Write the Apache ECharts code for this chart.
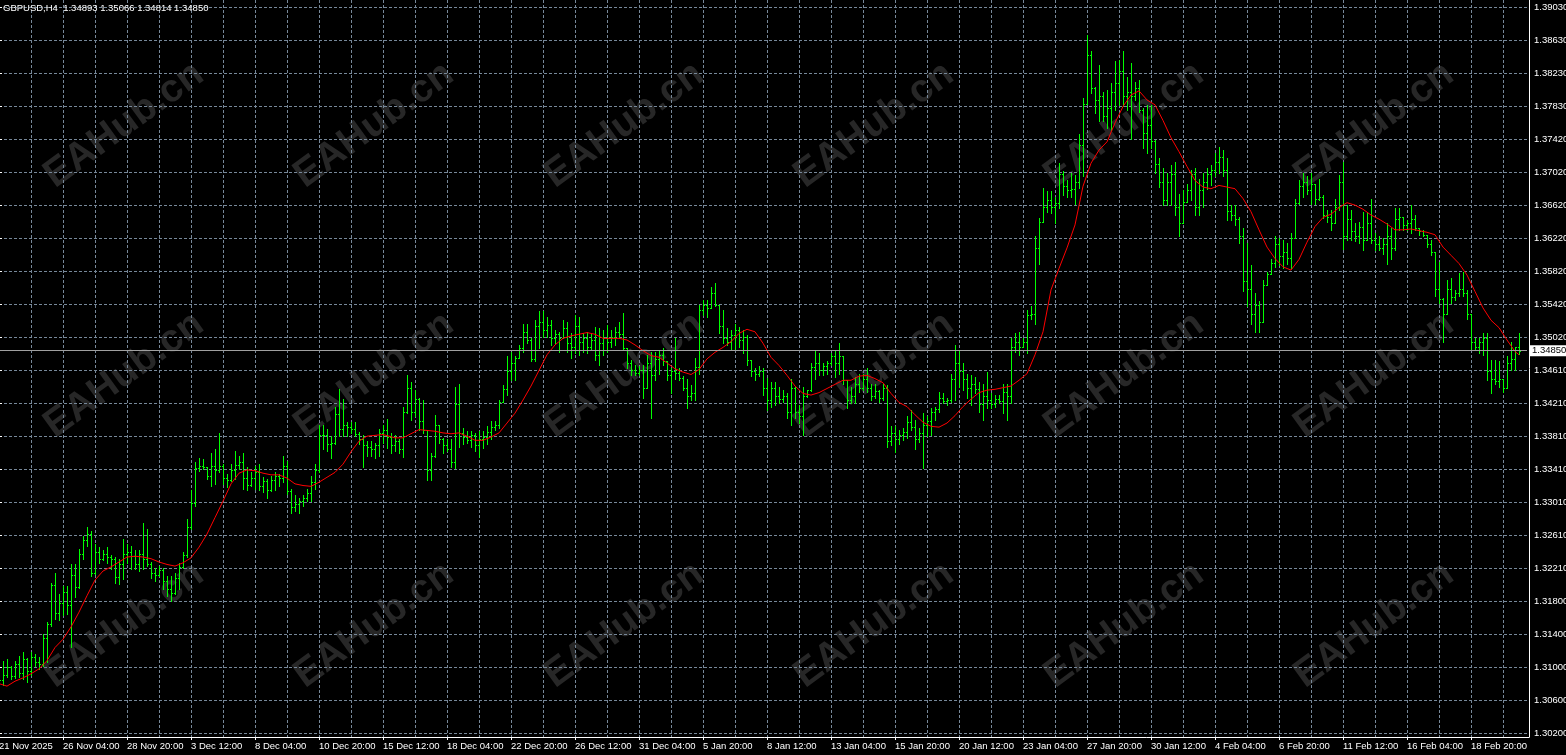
<!DOCTYPE html>
<html><head><meta charset="utf-8">
<script src="https://cdn.jsdelivr.net/npm/echarts@6/dist/echarts.min.js"></script>
<style>html,body{margin:0;padding:0;background:#000;overflow:hidden}#c{width:1566px;height:755px}</style>
</head><body><div id="c"></div>
<script>
const symbolTitle = 'GBPUSD,H4  1.34893 1.35066 1.34814 1.34850';
const lastPrice = 1.34850;
const lastPriceLabel = '1.34850';
const watermarkText = 'EAHub.cn';

const opens = [
1.3088,1.3085,1.3090,1.3100,1.3089,1.3104,1.3093,1.3110,1.3096,1.3112,1.3106,1.3104,1.3136,1.3153,1.3200,1.3166,1.3178,1.3192,1.3176,1.3212,
1.3198,1.3238,1.3255,1.3262,1.3215,1.3240,1.3232,1.3238,1.3234,1.3232,1.3210,1.3225,1.3238,1.3240,1.3235,1.3226,1.3238,1.3232,1.3226,1.3215,
1.3212,1.3218,1.3205,1.3195,1.3190,1.3208,1.3222,1.3236,1.3270,1.3300,1.3342,1.3345,1.3343,1.3332,1.3345,1.3340,1.3345,1.3330,1.3328,1.3340,
1.3346,1.3350,1.3330,1.3322,1.3330,1.3338,1.3320,1.3326,1.3316,1.3328,1.3333,1.3330,1.3345,1.3314,1.3295,1.3298,1.3302,1.3306,1.3312,1.3325,
1.3340,1.3382,1.3382,1.3372,1.3373,1.3408,1.3390,1.3395,1.3392,1.3390,1.3384,1.3378,1.3370,1.3368,1.3366,1.3370,1.3385,1.3388,1.3380,1.3370,
1.3375,1.3366,1.3410,1.3440,1.3410,1.3426,1.3400,1.3388,1.3340,1.3357,1.3395,1.3378,1.3370,1.3366,1.3350,1.3420,1.3385,1.3380,1.3376,1.3382,
1.3370,1.3378,1.3380,1.3386,1.3392,1.3395,1.3423,1.3438,1.3460,1.3470,1.3476,1.3488,1.3508,1.3498,1.3475,1.3515,1.3520,1.3510,1.3516,1.3500,
1.3505,1.3500,1.3512,1.3494,1.3490,1.3515,1.3495,1.3500,1.3490,1.3498,1.3480,1.3494,1.3500,1.3495,1.3502,1.3508,1.3505,1.3488,1.3470,1.3462,
1.3458,1.3462,1.3440,1.3470,1.3455,1.3475,1.3480,1.3472,1.3455,1.3460,1.3458,1.3452,1.3440,1.3430,1.3434,1.3465,1.3535,1.3540,1.3537,1.3555,
1.3540,1.3515,1.3500,1.3496,1.3504,1.3510,1.3498,1.3502,1.3474,1.3460,1.3457,1.3460,1.3440,1.3425,1.3440,1.3430,1.3426,1.3430,1.3410,1.3440,
1.3410,1.3405,1.3430,1.3437,1.3465,1.3470,1.3462,1.3466,1.3470,1.3478,1.3470,1.3478,1.3449,1.3425,1.3430,1.3445,1.3440,1.3450,1.3440,1.3430,
1.3436,1.3428,1.3440,1.3375,1.3385,1.3378,1.3382,1.3386,1.3398,1.3392,1.3378,1.3385,1.3395,1.3400,1.3410,1.3414,1.3428,1.3424,1.3425,1.3450,
1.3470,1.3460,1.3450,1.3440,1.3445,1.3438,1.3420,1.3430,1.3425,1.3420,1.3426,1.3424,1.3435,1.3430,1.3490,1.3495,1.3490,1.3495,1.3528,1.3530,
1.3610,1.3642,1.3660,1.3668,1.3660,1.3665,1.3700,1.3685,1.3680,1.3682,1.3690,1.3735,1.3785,1.3845,1.3805,1.3790,1.3795,1.3770,1.3780,1.3800,
1.3810,1.3825,1.3795,1.3800,1.3795,1.3805,1.3778,1.3750,1.3760,1.3740,1.3712,1.3690,1.3668,1.3690,1.3700,1.3660,1.3640,1.3666,1.3680,1.3700,
1.3660,1.3680,1.3690,1.3700,1.3705,1.3715,1.3720,1.3705,1.3655,1.3650,1.3645,1.3625,1.3570,1.3560,1.3530,1.3540,1.3520,1.3565,1.3578,1.3592,
1.3615,1.3600,1.3605,1.3598,1.3622,1.3665,1.3685,1.3690,1.3680,1.3688,1.3670,1.3672,1.3650,1.3648,1.3640,1.3660,1.3690,1.3625,1.3645,1.3630,
1.3625,1.3635,1.3620,1.3640,1.3620,1.3615,1.3610,1.3615,1.3625,1.3610,1.3645,1.3648,1.3638,1.3640,1.3645,1.3634,1.3630,1.3626,1.3615,1.3605,
1.3560,1.3548,1.3530,1.3560,1.3550,1.3555,1.3560,1.3555,1.3530,1.3495,1.3490,1.3495,1.3500,1.3460,1.3450,1.3448,1.3450,1.3440,1.3470,1.3475,
1.34893];

const highs = [
1.3094,1.3108,1.3110,1.3101,1.3108,1.3114,1.3119,1.3111,1.3118,1.3116,1.3112,1.3140,1.3155,1.3203,1.3215,1.3189,1.3199,1.3199,1.3226,1.3226,
1.3244,1.3260,1.3270,1.3266,1.3250,1.3246,1.3242,1.3246,1.3236,1.3234,1.3232,1.3256,1.3250,1.3248,1.3242,1.3242,1.3276,1.3268,1.3228,1.3221,
1.3223,1.3221,1.3211,1.3211,1.3215,1.3227,1.3240,1.3280,1.3315,1.3349,1.3355,1.3353,1.3344,1.3361,1.3365,1.3385,1.3347,1.3335,1.3347,1.3363,
1.3357,1.3361,1.3343,1.3337,1.3345,1.3347,1.3331,1.3329,1.3333,1.3337,1.3335,1.3357,1.3351,1.3317,1.3310,1.3306,1.3310,1.3317,1.3333,1.3347,
1.3394,1.3394,1.3390,1.3381,1.3416,1.3438,1.3426,1.3398,1.3398,1.3398,1.3386,1.3383,1.3375,1.3375,1.3373,1.3390,1.3394,1.3402,1.3385,1.3383,
1.3377,1.3417,1.3456,1.3447,1.3437,1.3427,1.3425,1.3389,1.3361,1.3407,1.3395,1.3379,1.3377,1.3377,1.3441,1.3445,1.3391,1.3387,1.3387,1.3385,
1.3387,1.3387,1.3393,1.3399,1.3399,1.3425,1.3443,1.3478,1.3484,1.3478,1.3492,1.3518,1.3518,1.3500,1.3522,1.3533,1.3533,1.3526,1.3522,1.3510,
1.3508,1.3522,1.3520,1.3506,1.3528,1.3526,1.3506,1.3508,1.3506,1.3514,1.3512,1.3510,1.3516,1.3510,1.3514,1.3520,1.3531,1.3488,1.3474,1.3468,
1.3466,1.3468,1.3480,1.3484,1.3484,1.3486,1.3488,1.3472,1.3464,1.3500,1.3464,1.3454,1.3450,1.3443,1.3476,1.3541,1.3547,1.3547,1.3563,1.3567,
1.3541,1.3535,1.3512,1.3510,1.3518,1.3514,1.3510,1.3504,1.3474,1.3464,1.3466,1.3464,1.3452,1.3447,1.3447,1.3441,1.3437,1.3433,1.3451,1.3441,
1.3419,1.3441,1.3437,1.3470,1.3486,1.3482,1.3470,1.3472,1.3482,1.3486,1.3494,1.3478,1.3449,1.3441,1.3453,1.3457,1.3457,1.3464,1.3445,1.3445,
1.3437,1.3445,1.3443,1.3393,1.3393,1.3389,1.3391,1.3405,1.3413,1.3401,1.3391,1.3409,1.3405,1.3415,1.3417,1.3435,1.3433,1.3427,1.3457,1.3492,
1.3486,1.3470,1.3457,1.3455,1.3453,1.3447,1.3445,1.3459,1.3433,1.3431,1.3431,1.3445,1.3445,1.3500,1.3506,1.3508,1.3500,1.3535,1.3539,1.3624,
1.3646,1.3683,1.3679,1.3679,1.3672,1.3713,1.3703,1.3693,1.3701,1.3699,1.3749,1.3792,1.3869,1.3849,1.3806,1.3833,1.3800,1.3802,1.3810,1.3837,
1.3839,1.3849,1.3818,1.3835,1.3812,1.3814,1.3780,1.3784,1.3784,1.3741,1.3719,1.3707,1.3701,1.3711,1.3715,1.3676,1.3680,1.3688,1.3705,1.3707,
1.3694,1.3701,1.3707,1.3711,1.3725,1.3733,1.3729,1.3719,1.3662,1.3662,1.3648,1.3634,1.3616,1.3589,1.3555,1.3545,1.3571,1.3581,1.3597,1.3624,
1.3622,1.3620,1.3616,1.3628,1.3670,1.3692,1.3701,1.3697,1.3701,1.3688,1.3694,1.3674,1.3656,1.3656,1.3670,1.3699,1.3715,1.3662,1.3656,1.3640,
1.3642,1.3654,1.3652,1.3670,1.3628,1.3624,1.3622,1.3640,1.3634,1.3658,1.3658,1.3648,1.3644,1.3662,1.3650,1.3634,1.3632,1.3626,1.3620,1.3605,
1.3593,1.3549,1.3571,1.3573,1.3559,1.3579,1.3581,1.3559,1.3530,1.3500,1.3500,1.3506,1.3506,1.3474,1.3474,1.3472,1.3451,1.3478,1.3496,1.3490,
1.35066];

const lows = [
1.3076,1.3078,1.3088,1.3086,1.3087,1.3088,1.3086,1.3082,1.3090,1.3102,1.3098,1.3102,1.3106,1.3150,1.3159,1.3157,1.3163,1.3165,1.3124,1.3185,
1.3196,1.3232,1.3248,1.3211,1.3213,1.3227,1.3230,1.3227,1.3219,1.3203,1.3201,1.3207,1.3227,1.3219,1.3219,1.3217,1.3219,1.3223,1.3209,1.3205,
1.3211,1.3195,1.3187,1.3181,1.3189,1.3195,1.3221,1.3234,1.3268,1.3296,1.3339,1.3341,1.3329,1.3320,1.3323,1.3338,1.3323,1.3319,1.3327,1.3329,
1.3341,1.3317,1.3315,1.3321,1.3317,1.3315,1.3313,1.3306,1.3314,1.3315,1.3321,1.3325,1.3311,1.3288,1.3290,1.3288,1.3296,1.3302,1.3302,1.3317,
1.3338,1.3365,1.3363,1.3355,1.3371,1.3381,1.3381,1.3381,1.3385,1.3381,1.3371,1.3343,1.3357,1.3357,1.3355,1.3357,1.3373,1.3367,1.3361,1.3363,
1.3361,1.3356,1.3409,1.3401,1.3405,1.3389,1.3385,1.3328,1.3328,1.3356,1.3373,1.3361,1.3363,1.3344,1.3342,1.3368,1.3371,1.3373,1.3368,1.3363,
1.3356,1.3367,1.3371,1.3377,1.3389,1.3391,1.3423,1.3431,1.3449,1.3449,1.3476,1.3484,1.3494,1.3472,1.3472,1.3488,1.3502,1.3502,1.3492,1.3494,
1.3484,1.3500,1.3484,1.3476,1.3482,1.3480,1.3484,1.3482,1.3486,1.3474,1.3468,1.3480,1.3484,1.3490,1.3492,1.3500,1.3486,1.3464,1.3456,1.3456,
1.3456,1.3427,1.3439,1.3403,1.3449,1.3457,1.3468,1.3449,1.3433,1.3451,1.3449,1.3437,1.3415,1.3425,1.3425,1.3457,1.3528,1.3526,1.3537,1.3539,
1.3506,1.3494,1.3492,1.3486,1.3486,1.3490,1.3482,1.3468,1.3454,1.3449,1.3454,1.3431,1.3413,1.3417,1.3419,1.3421,1.3423,1.3403,1.3395,1.3403,
1.3397,1.3383,1.3429,1.3436,1.3451,1.3455,1.3455,1.3457,1.3468,1.3453,1.3457,1.3445,1.3415,1.3421,1.3421,1.3435,1.3437,1.3435,1.3425,1.3427,
1.3423,1.3425,1.3368,1.3370,1.3362,1.3372,1.3376,1.3379,1.3389,1.3366,1.3374,1.3342,1.3381,1.3383,1.3401,1.3411,1.3421,1.3419,1.3423,1.3425,
1.3441,1.3437,1.3427,1.3419,1.3433,1.3411,1.3401,1.3415,1.3415,1.3417,1.3421,1.3409,1.3401,1.3421,1.3484,1.3480,1.3490,1.3482,1.3524,1.3518,
1.3591,1.3642,1.3654,1.3652,1.3640,1.3658,1.3674,1.3672,1.3672,1.3664,1.3683,1.3697,1.3785,1.3798,1.3774,1.3764,1.3764,1.3756,1.3754,1.3778,
1.3784,1.3782,1.3778,1.3742,1.3790,1.3775,1.3731,1.3725,1.3731,1.3701,1.3684,1.3662,1.3662,1.3662,1.3650,1.3624,1.3640,1.3666,1.3668,1.3650,
1.3650,1.3660,1.3682,1.3686,1.3697,1.3701,1.3697,1.3644,1.3644,1.3638,1.3616,1.3557,1.3539,1.3518,1.3508,1.3508,1.3520,1.3565,1.3578,1.3587,
1.3589,1.3585,1.3591,1.3585,1.3622,1.3664,1.3672,1.3676,1.3664,1.3664,1.3668,1.3646,1.3642,1.3632,1.3640,1.3656,1.3609,1.3620,1.3620,1.3618,
1.3616,1.3607,1.3620,1.3616,1.3607,1.3607,1.3603,1.3591,1.3597,1.3607,1.3632,1.3632,1.3632,1.3628,1.3632,1.3626,1.3624,1.3611,1.3601,1.3551,
1.3543,1.3496,1.3530,1.3543,1.3547,1.3551,1.3551,1.3524,1.3486,1.3486,1.3482,1.3480,1.3449,1.3433,1.3445,1.3441,1.3435,1.3440,1.3461,1.3461,
1.34814];

const closes = [
1.3085,1.3090,1.3100,1.3089,1.3104,1.3093,1.3110,1.3096,1.3112,1.3106,1.3104,1.3136,1.3153,1.3200,1.3166,1.3178,1.3192,1.3176,1.3212,1.3198,
1.3238,1.3255,1.3262,1.3215,1.3240,1.3232,1.3238,1.3234,1.3232,1.3210,1.3225,1.3238,1.3240,1.3235,1.3226,1.3238,1.3232,1.3226,1.3215,1.3212,
1.3218,1.3205,1.3195,1.3190,1.3208,1.3222,1.3236,1.3270,1.3300,1.3342,1.3345,1.3343,1.3332,1.3345,1.3340,1.3345,1.3330,1.3328,1.3340,1.3346,
1.3350,1.3330,1.3322,1.3330,1.3338,1.3320,1.3326,1.3316,1.3328,1.3333,1.3330,1.3345,1.3314,1.3295,1.3298,1.3302,1.3306,1.3312,1.3325,1.3340,
1.3382,1.3382,1.3372,1.3373,1.3408,1.3390,1.3395,1.3392,1.3390,1.3384,1.3378,1.3370,1.3368,1.3366,1.3370,1.3385,1.3388,1.3380,1.3370,1.3375,
1.3366,1.3410,1.3440,1.3410,1.3426,1.3400,1.3388,1.3340,1.3357,1.3395,1.3378,1.3370,1.3366,1.3350,1.3420,1.3385,1.3380,1.3376,1.3382,1.3370,
1.3378,1.3380,1.3386,1.3392,1.3395,1.3423,1.3438,1.3460,1.3470,1.3476,1.3488,1.3508,1.3498,1.3475,1.3515,1.3520,1.3510,1.3516,1.3500,1.3505,
1.3500,1.3512,1.3494,1.3490,1.3515,1.3495,1.3500,1.3490,1.3498,1.3480,1.3494,1.3500,1.3495,1.3502,1.3508,1.3505,1.3488,1.3470,1.3462,1.3458,
1.3462,1.3440,1.3470,1.3455,1.3475,1.3480,1.3472,1.3455,1.3460,1.3458,1.3452,1.3440,1.3430,1.3434,1.3465,1.3535,1.3540,1.3537,1.3555,1.3540,
1.3515,1.3500,1.3496,1.3504,1.3510,1.3498,1.3502,1.3474,1.3460,1.3457,1.3460,1.3440,1.3425,1.3440,1.3430,1.3426,1.3430,1.3410,1.3440,1.3410,
1.3405,1.3430,1.3437,1.3465,1.3470,1.3462,1.3466,1.3470,1.3478,1.3470,1.3478,1.3449,1.3425,1.3430,1.3445,1.3440,1.3450,1.3440,1.3430,1.3436,
1.3428,1.3440,1.3375,1.3385,1.3378,1.3382,1.3386,1.3398,1.3392,1.3378,1.3385,1.3395,1.3400,1.3410,1.3414,1.3428,1.3424,1.3425,1.3450,1.3470,
1.3460,1.3450,1.3440,1.3445,1.3438,1.3420,1.3430,1.3425,1.3420,1.3426,1.3424,1.3435,1.3430,1.3490,1.3495,1.3490,1.3495,1.3528,1.3530,1.3610,
1.3642,1.3660,1.3668,1.3660,1.3665,1.3700,1.3685,1.3680,1.3682,1.3690,1.3735,1.3785,1.3845,1.3805,1.3790,1.3795,1.3770,1.3780,1.3800,1.3810,
1.3825,1.3795,1.3800,1.3795,1.3805,1.3778,1.3750,1.3760,1.3740,1.3712,1.3690,1.3668,1.3690,1.3700,1.3660,1.3640,1.3666,1.3680,1.3700,1.3660,
1.3680,1.3690,1.3700,1.3705,1.3715,1.3720,1.3705,1.3655,1.3650,1.3645,1.3625,1.3570,1.3560,1.3530,1.3540,1.3520,1.3565,1.3578,1.3592,1.3615,
1.3600,1.3605,1.3598,1.3622,1.3665,1.3685,1.3690,1.3680,1.3688,1.3670,1.3672,1.3650,1.3648,1.3640,1.3660,1.3690,1.3625,1.3645,1.3630,1.3625,
1.3635,1.3620,1.3640,1.3620,1.3615,1.3610,1.3615,1.3625,1.3610,1.3645,1.3648,1.3638,1.3640,1.3645,1.3634,1.3630,1.3626,1.3615,1.3605,1.3560,
1.3548,1.3530,1.3560,1.3550,1.3555,1.3560,1.3555,1.3530,1.3495,1.3490,1.3495,1.3500,1.3460,1.3450,1.3448,1.3450,1.3440,1.3470,1.3475,1.34893,
1.34850];

// moving average: bar index and value
const maBars = [
0,2,4,6,8,10,12,14,16,18,20,22,24,26,28,30,32,34,36,38,40,42,44,46,48,50,52,54,56,58,60,62,64,66,68,70,72,74,76,78,80,82,84,86,88,90,92,94,96,
99,101,103,105,107,109,111,113,115,117,119,121,123,125,127,129,131,133,135,137,139,141,143,145,147,149,151,153,155,157,159,161,163,165,167,169,171,173,175,177,179,
181,183,185,187,189,191,193,195,197,199,201,203,205,207,209,211,213,215,217,219,221,223,225,227,229,231,233,235,237,239,241,243,245,247,249,251,253,255,257,259,
261,263,265,267,269,271,273,275,277,279,281,283,285,287,289,291,293,295,297,299,301,303,305,307,309,311,313,315,317,319,321,323,325,327,329,331,333,335,337,339,
341,343,345,347,349,351,353,355,357,359,361,363,365,367,369,371,373,375,377,379,380];
const maValues = [
1.3080,1.3077,1.3083,1.3087,1.3092,1.3098,1.3108,1.3124,1.3134,1.3149,1.3167,1.3187,1.3206,1.3217,1.3222,1.3228,1.3234,1.3235,1.3234,1.3232,1.3228,1.3225,1.3223,1.3227,1.3233,
1.3246,1.3262,1.3282,1.3302,1.3323,1.3336,1.3340,1.3339,1.3336,1.3334,1.3334,1.3330,1.3323,1.3321,1.3320,1.3325,1.3331,1.3337,1.3347,1.3362,1.3375,1.3381,1.3382,1.3383,
1.3379,1.3379,1.3384,1.3389,1.3388,1.3387,1.3385,1.3384,1.3385,1.3381,1.3376,1.3376,1.3380,1.3385,1.3397,1.3409,1.3425,1.3442,1.3461,1.3480,1.3492,1.3500,1.3503,1.3505,1.3507,
1.3505,1.3500,1.3500,1.3500,1.3498,1.3492,1.3485,1.3479,1.3477,1.3470,1.3463,1.3459,1.3456,1.3462,1.3475,1.3483,
1.3489,1.3496,1.3506,1.3511,1.3508,1.3494,1.3477,1.3467,1.3455,1.3442,1.3433,1.3431,1.3434,1.3439,1.3444,1.3449,1.3449,1.3454,1.3455,1.3451,1.3446,1.3433,1.3422,1.3417,1.3407,
1.3398,1.3393,1.3392,1.3397,1.3406,1.3417,1.3426,1.3434,1.3437,1.3438,1.3440,1.3442,1.3449,1.3457,1.3480,
1.3508,1.3559,1.3585,1.3610,1.3638,1.3685,1.3713,1.3729,1.3739,1.3762,1.3782,1.3796,1.3801,1.3790,1.3784,1.3765,1.3744,1.3727,1.3709,1.3692,1.3684,1.3682,1.3686,1.3684,1.3682,
1.3670,1.3654,1.3632,1.3611,1.3597,1.3587,1.3583,1.3596,1.3617,1.3636,1.3647,1.3651,1.3659,1.3665,1.3662,
1.3657,1.3650,1.3645,1.3639,1.3632,1.3632,1.3633,1.3631,1.3629,1.3626,1.3611,1.3601,1.3591,1.3577,1.3557,1.3537,1.3522,1.3513,1.3498,1.3484,1.3480];

const xTickLabels = ['21 Nov 2025','26 Nov 04:00','28 Nov 20:00','3 Dec 12:00','8 Dec 04:00','10 Dec 20:00','15 Dec 12:00','18 Dec 04:00',
'22 Dec 20:00','26 Dec 12:00','31 Dec 04:00','5 Jan 20:00','8 Jan 12:00','13 Jan 04:00','15 Jan 20:00','20 Jan 12:00',
'23 Jan 04:00','27 Jan 20:00','30 Jan 12:00','4 Feb 04:00','6 Feb 20:00','11 Feb 12:00','16 Feb 04:00','18 Feb 20:00'];
const yTickLabels = ['1.39030','1.38630','1.38230','1.37830','1.37420','1.37020','1.36620','1.36220','1.35820','1.35420','1.35020','1.34610',
'1.34210','1.33810','1.33410','1.33010','1.32610','1.32210','1.31800','1.31400','1.31000','1.30600','1.30200'];

// ---------- layout ----------
const FONT = "'Liberation Sans',Arial,sans-serif";
const FS = 9.5;
const GRID_COLOR = '#778899';
const BAR_SLOTS = 383;           // visible bar slots incl. empty right margin
const LABEL_EVERY = 16, GRID_EVERY = 8;
const labelTop = 1.39030, labelBottom = 1.30200; // price at top / bottom price grid line
const labelSpanPx = 726;                           // pixels between them
const perPx = (labelTop - labelBottom) / labelSpanPx;
const plotTopPx = 7, plotBottomPx = 737;

const slots = [];
for (let i = 0; i < BAR_SLOTS; i++) slots.push(String(i));
const barRows = opens.map((o, i) => [i, o, highs[i], lows[i], closes[i]]);
const maRows = maBars.map((b, i) => [b, maValues[i]]);

function renderOhlc(params, api) {
  const i = api.value(0);
  const pO = api.coord([i, api.value(1)]);
  const pH = api.coord([i, api.value(2)]);
  const pL = api.coord([i, api.value(3)]);
  const pC = api.coord([i, api.value(4)]);
  const x = Math.round(pO[0]);
  const yH = Math.round(pH[1]), yL = Math.round(pL[1]);
  const yO = Math.round(pO[1]), yC = Math.round(pC[1]);
  const st = { fill: '#00ff00' };
  return { type: 'group', children: [
    { type: 'rect', shape: { x: x, y: yH, width: 1, height: Math.max(1, yL - yH + 1) }, style: st },
    { type: 'rect', shape: { x: x - 1, y: yO, width: 1, height: 1 }, style: st },
    { type: 'rect', shape: { x: x + 1, y: yC, width: 1, height: 1 }, style: st }
  ]};
}

const watermarks = [];
for (let r = 0; r < 3; r++) {
  for (let c = 0; c < 6; c++) {
    watermarks.push({
      type: 'text', x: 124 + 250 * c, y: 125 + 250 * r, rotation: 36 * Math.PI / 180,
      z: -10, zlevel: 0, silent: true,
      style: { text: watermarkText, fill: '#272727', font: 'bold 39px "Liberation Sans", Arial, sans-serif',
               align: 'center', verticalAlign: 'middle', textAlign: 'center', textVerticalAlign: 'middle' }
    });
  }
}

const gridBase = { containLabel: false, outerBoundsMode: 'none' };
const chart = echarts.init(document.getElementById('c'), null, { renderer: 'canvas', width: 1566, height: 755 });
chart.setOption({
  animation: false,
  backgroundColor: '#000000',
  title: { text: symbolTitle, left: 3, top: 3, padding: 0,
           textStyle: { color: '#ffffff', fontSize: FS, fontWeight: 'normal', fontFamily: FONT } },
  graphic: { elements: watermarks },
  grid: [
    Object.assign({ left: -1, top: 0, width: (BAR_SLOTS - 1) * 4, height: plotBottomPx }, gridBase),
    Object.assign({ left: -1, top: plotTopPx, width: 1530, height: labelSpanPx }, gridBase),
    Object.assign({ left: -1, top: 0, width: 1530, height: plotBottomPx }, gridBase)
  ],
  xAxis: [
    { type: 'category', gridIndex: 0, data: slots, boundaryGap: false,
      axisLine: { show: false },
      axisTick: { show: true, interval: LABEL_EVERY - 1, length: 3, lineStyle: { color: '#ffffff' } },
      axisLabel: { show: true, interval: LABEL_EVERY - 1, color: '#ffffff', fontSize: FS, fontFamily: FONT,
                   align: 'left', margin: 4, hideOverlap: false,
                   formatter: (v) => { const n = parseInt(v, 10); return n % LABEL_EVERY === 0 ? (xTickLabels[n / LABEL_EVERY] || '') : ''; } },
      splitLine: { show: true, interval: GRID_EVERY - 1, lineStyle: { color: GRID_COLOR, type: [3, 2], width: 1 } } },
    { type: 'value', gridIndex: 1, min: 0, max: 1, show: false },
    { type: 'value', gridIndex: 2, min: 0, max: 1,
      axisLine: { show: true, onZero: false, lineStyle: { color: '#ffffff', width: 1 } },
      axisTick: { show: false }, axisLabel: { show: false }, splitLine: { show: false } }
  ],
  yAxis: [
    { type: 'value', gridIndex: 0, min: labelBottom - (plotBottomPx - plotTopPx - labelSpanPx) * perPx,
      max: labelTop + plotTopPx * perPx, show: false },
    { type: 'value', gridIndex: 1, min: 0, max: yTickLabels.length - 1, interval: 1, inverse: true, position: 'right',
      axisLine: { show: false },
      axisTick: { show: true, length: 3, lineStyle: { color: '#ffffff' } },
      axisLabel: { show: true, color: '#ffffff', fontSize: FS, fontFamily: FONT, margin: 5, align: 'left', hideOverlap: false,
                   formatter: (v) => yTickLabels[Math.round(v)] },
      splitLine: { show: true, lineStyle: { color: GRID_COLOR, type: [3, 2], width: 1 } } },
    { type: 'value', gridIndex: 2, min: 0, max: 1, position: 'right',
      axisLine: { show: true, onZero: false, lineStyle: { color: '#ffffff', width: 1 } },
      axisTick: { show: false }, axisLabel: { show: false }, splitLine: { show: false } }
  ],
  series: [
    { type: 'custom', name: 'GBPUSD', xAxisIndex: 0, yAxisIndex: 0, data: barRows,
      encode: { x: 0, y: [1, 2, 3, 4] }, renderItem: renderOhlc, clip: true, z: 3, silent: true },
    { type: 'line', name: 'MA', xAxisIndex: 0, yAxisIndex: 0, data: maRows, showSymbol: false, symbol: 'none',
      lineStyle: { color: '#ff0000', width: 1 }, z: 4, silent: true, clip: true,
      markLine: { silent: true, symbol: ['none', 'none'], animation: false, precision: 5,
        lineStyle: { color: '#a0a0a0', type: 'solid', width: 1 },
        label: { show: true, position: 'end', distance: 3, formatter: lastPriceLabel, color: '#000000',
                 backgroundColor: '#ffffff', padding: [1, 2, 0, 2], fontSize: FS, fontFamily: FONT },
        data: [{ yAxis: lastPrice }] } }
  ]
});
</script>
</body></html>
